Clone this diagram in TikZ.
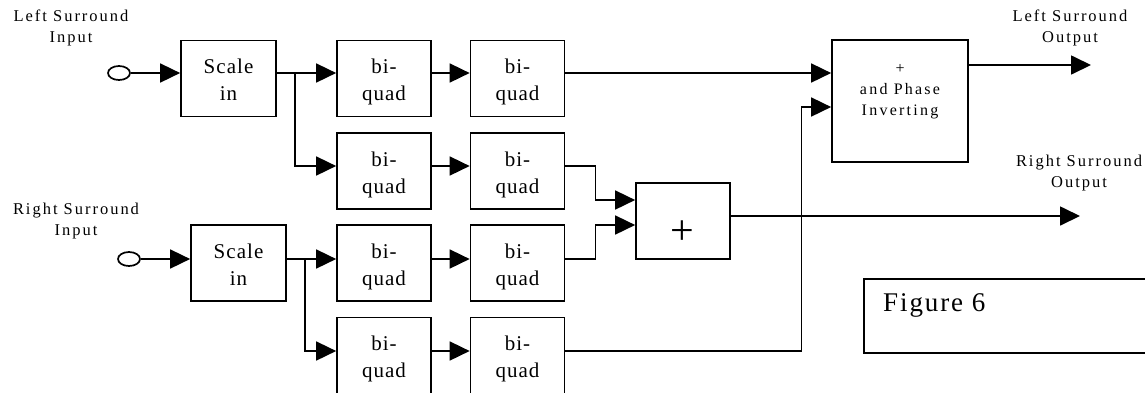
\documentclass[tikz,border=0pt]{standalone}
\usepackage{fontspec}
\setmainfont{Liberation Serif}
\newfontfamily\boxfont[LetterSpace=5]{Liberation Serif}
\newfontfamily\lblfont[LetterSpace=12]{Liberation Serif}
\newfontfamily\phasefont[LetterSpace=14]{Liberation Serif}
\newfontfamily\figfont[LetterSpace=7]{Liberation Serif}
\usetikzlibrary{arrows.meta,shapes.geometric}

% two centred lines, set a little below the middle of their box
\newcommand{\stk}[2]{\raisebox{-3.5pt}[\height][\depth]{%
  \begin{tabular}{@{}c@{}}#1\\#2\end{tabular}}}

\begin{document}
\begin{tikzpicture}[x=1pt,y=-1pt,
  blk/.style={draw,line width=1.7pt,minimum width=94pt,minimum height=76pt,
    inner sep=0pt,align=center,font=\boxfont\fontsize{21}{27}\selectfont},
  sig/.style={line width=1.7pt},
  arr/.style={sig,-{Triangle[length=20pt,width=19pt]}},
  lbl/.style={align=center,inner sep=0pt,font=\lblfont\fontsize{16.5}{21}\selectfont},
  port/.style={draw,ellipse,line width=1.7pt,minimum width=22pt,minimum height=14pt,inner sep=0pt}]

\useasboundingbox (0,0) rectangle (1145,392);
\clip (0,0) rectangle (1145,392);

% input / output captions
\node[lbl] (tLin)  at (71,28)     {Left Surround\\Input};
\node[lbl] (tRin)  at (76,221)    {Right Surround\\Input};
\node[lbl] (tLout) at (1070,27.5) {Left Surround\\Output};
\node[lbl] (tRout) at (1079,173.5){Right Surround\\Output};

% input ports
\node[port] (inL) at (119,73) {};
\node[port] (inR) at (129,259) {};

% scaling stages
\node[blk,minimum width=95pt] (sL) at (228.5,78.5) {\stk{Scale}{in}};
\node[blk,minimum width=95pt] (sR) at (238.5,263)  {\stk{Scale}{in}};

% biquad filter sections
\node[blk] (b11) at (384,78.5)   {\stk{bi-}{quad}};
\node[blk] (b12) at (517.5,78.5) {\stk{bi-}{quad}};
\node[blk] (b21) at (384,171)    {\stk{bi-}{quad}};
\node[blk] (b22) at (517.5,171)  {\stk{bi-}{quad}};
\node[blk] (b31) at (384,263)    {\stk{bi-}{quad}};
\node[blk] (b32) at (517.5,263)  {\stk{bi-}{quad}};
\node[blk] (b41) at (384,355.5)  {\stk{bi-}{quad}};
\node[blk] (b42) at (517.5,355.5){\stk{bi-}{quad}};

% summing junction
\node[blk] (plus) at (683,221) {};
\node[inner sep=0pt,font=\fontsize{42}{42}\selectfont] (plusSign) at (682,233) {+};

% summing and phase inversion
\node[blk,minimum width=136pt,minimum height=122pt] (phase) at (900,101) {};
\node[align=center,inner sep=0pt,font=\phasefont\fontsize{16}{21}\selectfont]
  (phaseText) at (900,92) {+\\and\ Phase\\Inverting};

% caption box
\node[draw,line width=1.7pt,anchor=north west,minimum width=300pt,
  minimum height=74pt,inner sep=0pt] (figbox) at (863,278) {};
\node[anchor=west,inner sep=0pt,font=\figfont\fontsize{27}{30}\selectfont]
  (figText) at (883,305) {Figure 6};

% junction points
\coordinate (jL) at (295,73);
\coordinate (jR) at (305,259);
\coordinate (oL) at (1091,65);
\coordinate (oR) at (1080,216);

% left channel
\draw[arr] (inL.east) -- ([yshift=5.5pt]sL.west);
\draw[sig] ([yshift=5.5pt]sL.east) -- (jL);
\draw[arr] (jL) -- ([yshift=5.5pt]b11.west);
\draw[arr] (jL) |- ([yshift=5pt]b21.west);
\draw[arr] ([yshift=5.5pt]b11.east) -- ([yshift=5.5pt]b12.west);
\draw[arr] ([yshift=5pt]b21.east) -- ([yshift=5pt]b22.west);
\draw[arr] ([yshift=5.5pt]b12.east) -- ([yshift=28pt]phase.west);
\draw[arr] ([yshift=5pt]b22.east) -- ++(30,0) |- ([yshift=21pt]plus.west);

% right channel
\draw[arr] (inR.east) -- ([yshift=4pt]sR.west);
\draw[sig] ([yshift=4pt]sR.east) -- (jR);
\draw[arr] (jR) -- ([yshift=4pt]b31.west);
\draw[arr] (jR) |- ([yshift=4.5pt]b41.west);
\draw[arr] ([yshift=4pt]b31.east) -- ([yshift=4pt]b32.west);
\draw[arr] ([yshift=4.5pt]b41.east) -- ([yshift=4.5pt]b42.west);
\draw[arr] ([yshift=4pt]b32.east) -- ++(30,0) |- ([yshift=-4pt]plus.west);
\draw[arr] ([yshift=4.5pt]b42.east) -- ++(236,0) |- ([yshift=-6pt]phase.west);

% outputs
\draw[arr] ([yshift=36pt]phase.east) -- (oL);
\draw[arr] ([yshift=5pt]plus.east) -- (oR);
\end{tikzpicture}
\end{document}
